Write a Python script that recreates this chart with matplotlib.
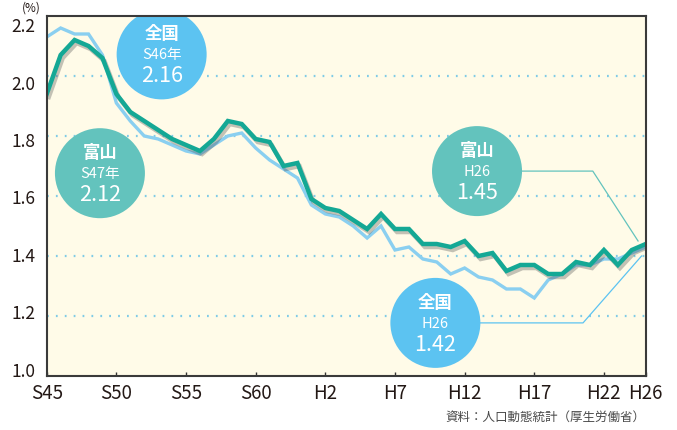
import numpy as np
import matplotlib
matplotlib.use("Agg")
import matplotlib.pyplot as plt
import matplotlib.patheffects as pe
import matplotlib.transforms as mtransforms
from matplotlib.patches import Ellipse

plt.rcParams['font.family'] = ['Noto Sans CJK JP', 'DejaVu Sans']

# 合計特殊出生率 (S45 - H26)
toyama = [1.94, 2.07, 2.12, 2.10, 2.06, 1.94, 1.88, 1.85, 1.82, 1.79,
          1.77, 1.75, 1.79, 1.85, 1.84, 1.79, 1.78, 1.70, 1.71, 1.59,
          1.56, 1.55, 1.52, 1.49, 1.54, 1.49, 1.49, 1.44, 1.44, 1.43,
          1.45, 1.40, 1.41, 1.35, 1.37, 1.37, 1.34, 1.34, 1.38, 1.37,
          1.42, 1.37, 1.42, 1.44]
zenkoku = [2.13, 2.16, 2.14, 2.14, 2.07, 1.91, 1.85, 1.80, 1.79, 1.77,
           1.75, 1.74, 1.77, 1.80, 1.81, 1.76, 1.72, 1.69, 1.66, 1.57,
           1.54, 1.53, 1.50, 1.46, 1.50, 1.42, 1.43, 1.39, 1.38, 1.34,
           1.36, 1.33, 1.32, 1.29, 1.29, 1.26, 1.32, 1.34, 1.37, 1.37,
           1.39, 1.39, 1.41, 1.43]
tick_labels = ['S45', 'S50', 'S55', 'S60', 'H2', 'H7', 'H12', 'H17', 'H22', 'H26']
y_ticks = [1.0, 1.2, 1.4, 1.6, 1.8, 2.0, 2.2]

teal = '#14a895'
lblue = '#8acff0'
c_teal = '#63c3bd'
c_blue = '#5cc3f1'
txt = '#231815'

x = np.arange(len(toyama))
n = len(x) - 1

fig = plt.figure(figsize=(6.77, 4.30), dpi=100)
ax = fig.add_axes([0.069, 0.1256, 0.8848, 0.8372])
ax.set_facecolor('#fffbe8')

for v in y_ticks[1:-1]:
    ax.axhline(v, color='#7fcbe6', lw=1.6, ls=(0, (0.8, 3.2)), zorder=1)

ax.plot(x, zenkoku, color=lblue, lw=2.4, zorder=3, solid_joinstyle='miter')
ax.plot(x, toyama, color=teal, lw=3.2, zorder=4, solid_joinstyle='miter',
        path_effects=[pe.SimpleLineShadow(offset=(1.5, -2.2), shadow_color='#555555', alpha=0.35),
                      pe.Normal()])

ax.set_xlim(0, n)
ax.set_ylim(1.0, 2.2)

# y目盛ラベルは元図と同じく少しずらして配置
ax.set_yticks(y_ticks)
ax.set_yticklabels([])
ax.tick_params(axis='y', length=0)
ylab_trans = mtransforms.blended_transform_factory(ax.transAxes, ax.transData)
for k, v in enumerate(y_ticks):
    dy = (4.3 - 2.6 * k) / 100
    tr = ylab_trans + mtransforms.ScaledTranslation(-0.115, dy, fig.dpi_scale_trans)
    ax.text(0, v, '%.1f' % v, transform=tr, ha='right', va='center',
            fontsize=12.5, color=txt)

ax.set_xticks(list(range(0, n, 5)) + [n])
ax.set_xticklabels(tick_labels, fontsize=13.5, color=txt)
ax.tick_params(axis='x', direction='in', length=3, width=1, color='#333333', pad=5)

for s in ax.spines.values():
    s.set_color('#3a3a3a')
    s.set_linewidth(1.5)
    s.set_zorder(6)

# 吹き出し (円の大きさはピクセルで揃える)
px_x = 599 / n
px_y = 360 / 1.2
rx = 90 / px_x
ry = 90 / px_y


def bubble(cx, cy, color, lines):
    ax.add_patch(Ellipse((cx, cy), rx, ry, facecolor=color, edgecolor='none', zorder=5))
    ax.text(cx, cy + 20 / px_y, lines[0], ha='center', va='center', color='white',
            fontsize=12.5, fontweight='bold', zorder=7)
    ax.text(cx, cy - 1 / px_y, lines[1], ha='center', va='center', color='white',
            fontsize=10.5, zorder=7)
    ax.text(cx, cy - 22 / px_y, lines[2], ha='center', va='center', color='white',
            fontsize=15.5, zorder=7)


bubble(8.25, 2.072, c_blue, ['全国', 'S46年', '2.16'])
bubble(3.82, 1.676, c_teal, ['富山', 'S47年', '2.12'])
bubble(30.89, 1.683, c_teal, ['富山', 'H26', '1.45'])
bubble(27.9, 1.177, c_blue, ['全国', 'H26', '1.42'])

ax.plot([30.89 + rx / 2, 39.2, n - 0.55], [1.683, 1.683, toyama[-1] + 0.01],
        color=c_teal, lw=0.9, zorder=4.5)
ax.plot([27.9 + rx / 2, 38.5, n - 0.3], [1.177, 1.177, zenkoku[-1] - 0.03],
        color=c_blue, lw=0.9, zorder=4.5)

ax.text(-0.025, 1.003, '(%)', transform=ax.transAxes, ha='center', va='bottom',
        fontsize=8.5, color=txt)
ax.text(1.0, -0.114, '資料：人口動態統計（厚生労働省）', transform=ax.transAxes,
        ha='right', va='center', fontsize=9, color='#4a4a4a')

fig.savefig('out.png', dpi=100)
